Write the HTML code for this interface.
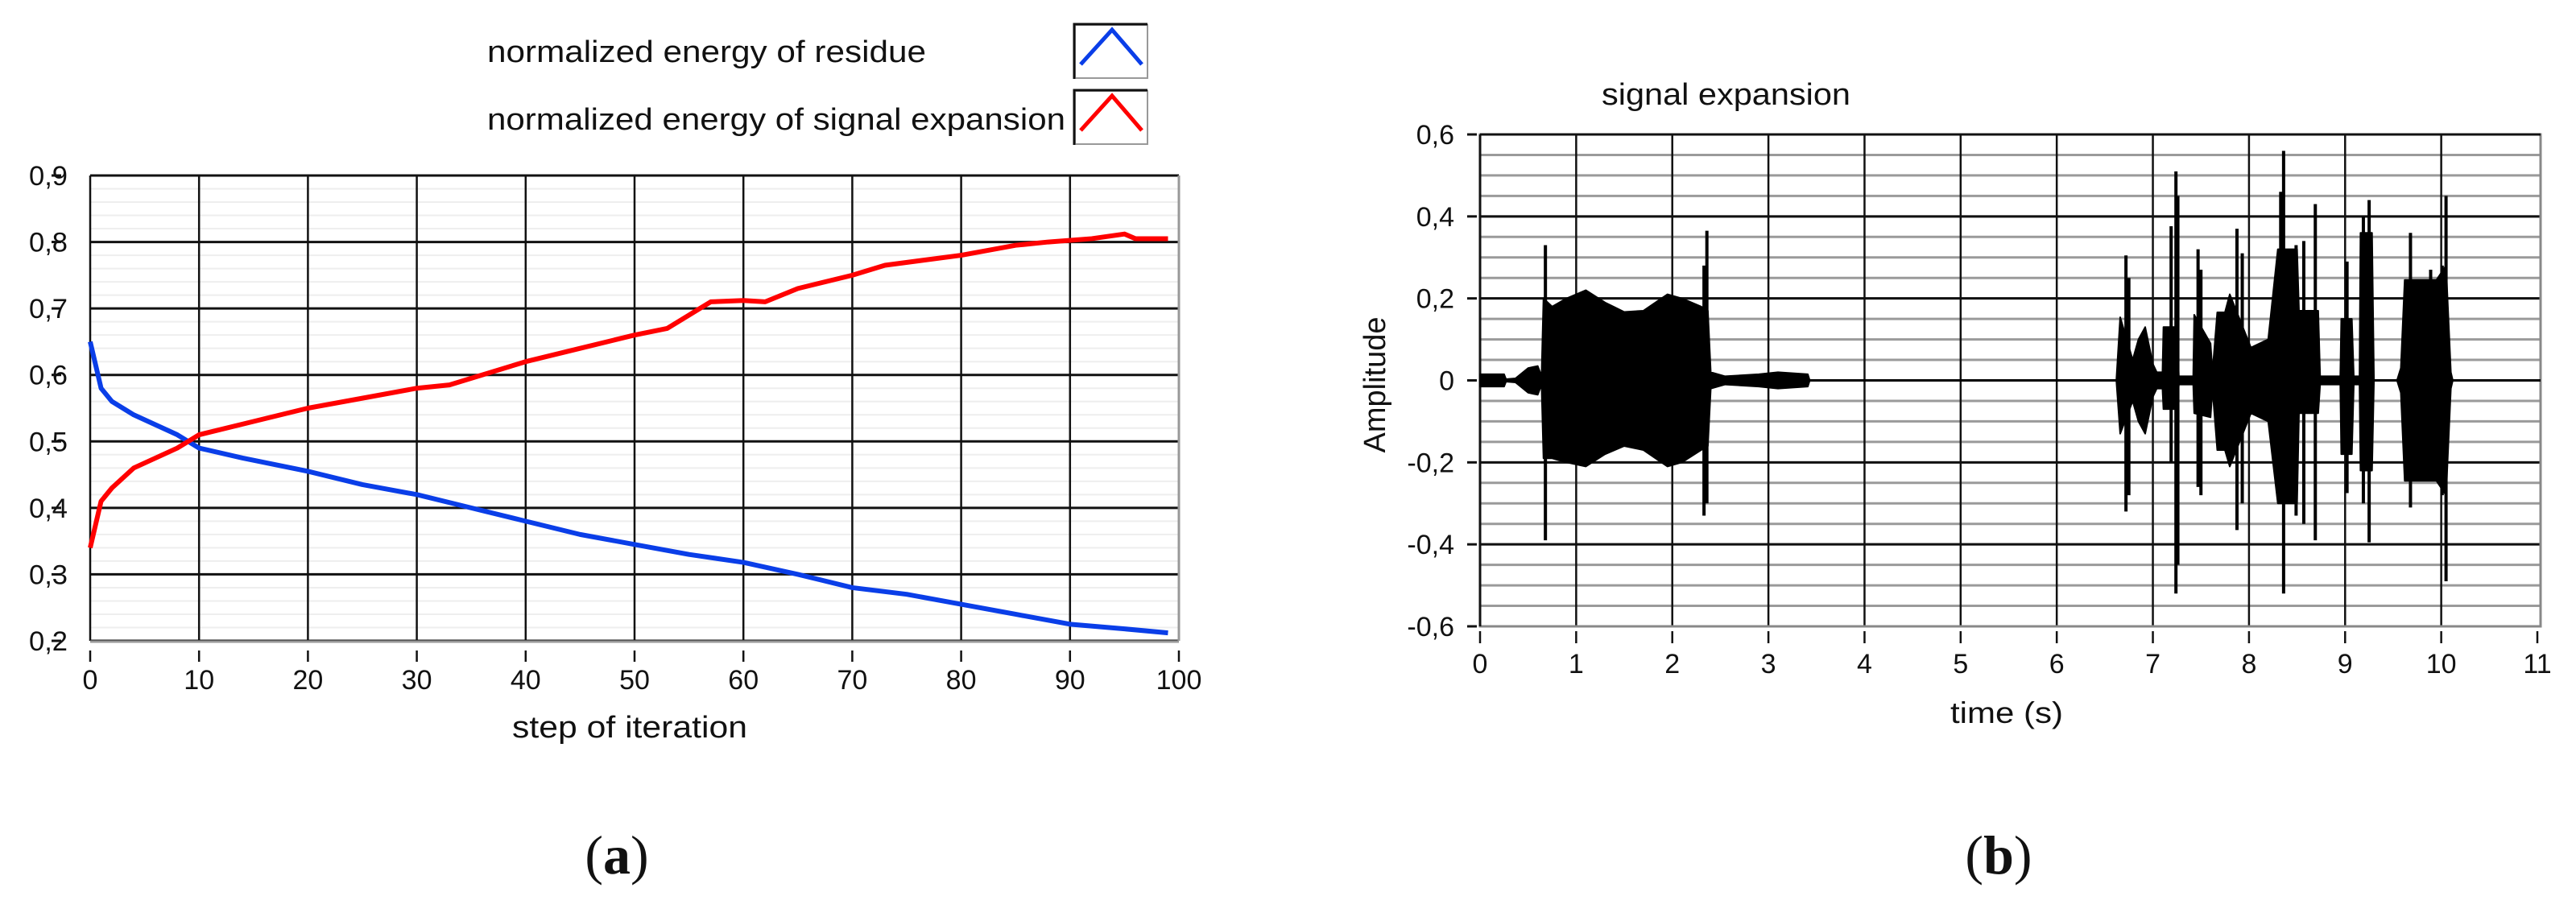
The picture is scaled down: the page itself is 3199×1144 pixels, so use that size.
<!DOCTYPE html>
<html><head><meta charset="utf-8"><style>
html,body{margin:0;padding:0;background:#fff;}
svg{display:block;}
text{font-family:"Liberation Sans",sans-serif;fill:#111;}
</style></head><body>
<svg id="fig" width="3199" height="1144" viewBox="0 0 3199 1144" xmlns="http://www.w3.org/2000/svg">
<g id="left"></g>
<g id="right"></g>
<text x="766" y="1085" text-anchor="middle" style="font-family:'Liberation Serif',serif" font-size="68">(<tspan font-weight="bold">a</tspan>)</text>
<text x="2482" y="1085" text-anchor="middle" style="font-family:'Liberation Serif',serif" font-size="68">(<tspan font-weight="bold">b</tspan>)</text>
</svg>
<script>
// ---- Left chart data ----
const residueSteps = [0,1,2,4,6,8,10,14,20,25,30,35,40,45,50,55,60,65,70,75,80,85,90,95,99];
const residueVals  = [0.65,0.58,0.56,0.54,0.525,0.51,0.49,0.475,0.455,0.435,0.42,0.40,0.38,0.36,0.345,0.33,0.318,0.30,0.28,0.27,0.255,0.24,0.225,0.218,0.212];
const expansionSteps = [0,1,2,4,6,8,10,15,20,25,30,33,35,40,45,50,53,55,57,60,62,65,70,73,80,85,88,92,95,96,99];
const expansionVals  = [0.34,0.41,0.43,0.46,0.475,0.49,0.51,0.53,0.55,0.565,0.58,0.585,0.595,0.62,0.64,0.66,0.67,0.69,0.71,0.712,0.71,0.73,0.75,0.765,0.78,0.795,0.80,0.805,0.812,0.805,0.805];
const leftXTicks = [0,10,20,30,40,50,60,70,80,90,100];
const leftYTicks = [0.2,0.3,0.4,0.5,0.6,0.7,0.8,0.9];
const leftYLabels = ["0,2","0,3","0,4","0,5","0,6","0,7","0,8","0,9"];
// ---- Right chart data ----
const envT  = [0,0.25,0.27,0.37,0.5,0.6,0.64,0.66,0.75,0.9,1.1,1.3,1.5,1.7,1.95,2.1,2.3,2.37,2.4,2.55,2.9,3.1,3.41,3.43,6.62,6.66,6.79,6.85,6.92,7.0,7.04,7.1,7.11,7.25,7.27,7.42,7.43,7.6,7.62,7.67,7.75,7.8,8.02,8.2,8.3,8.5,8.52,8.72,8.74,8.95,8.96,9.07,9.09,9.15,9.16,9.28,9.3,9.54,9.58,9.62,9.95,10.05,10.1,10.12,11];
const envHi = [.015,.015,.003,.005,.03,.035,.01,.2,.18,.2,.22,.19,.167,.17,.21,.2,.18,.17,.02,.01,.015,.02,.015,0,0,.154,.05,.1,.13,.04,.02,.02,.13,.13,.01,.01,.16,.09,.02,.166,.166,.21,.08,.1,.32,.32,.17,.17,.01,.01,.15,.15,.01,.01,.36,.36,0,0,.03,.245,.245,.28,.02,0,0];
const envLo = [-.015,-.015,-.003,-.005,-.03,-.035,-.01,-.19,-.19,-.2,-.21,-.18,-.16,-.17,-.21,-.2,-.17,-.16,-.02,-.01,-.015,-.02,-.015,0,0,-.13,-.05,-.1,-.13,-.04,-.02,-.02,-.07,-.07,-.01,-.01,-.08,-.09,-.02,-.17,-.17,-.21,-.08,-.1,-.3,-.3,-.08,-.08,-.01,-.01,-.18,-.18,-.01,-.01,-.22,-.22,0,0,-.03,-.245,-.245,-.28,-.02,0,0];
const spikeT  = [0.68,2.33,2.36,6.72,6.75,7.19,7.24,7.26,7.47,7.5,7.875,7.93,8.33,8.36,8.49,8.57,8.69,9.02,9.19,9.25,9.68,9.89,10.01,10.05];
const spikeHi = [.33,.28,.365,.305,.25,.376,.51,.45,.32,.27,.37,.31,.46,.56,.33,.34,.43,.29,.40,.44,.36,.27,.28,.45];
const spikeLo = [-.39,-.33,-.3,-.32,-.28,-.2,-.52,-.45,-.26,-.28,-.365,-.30,-.30,-.52,-.33,-.35,-.39,-.275,-.30,-.395,-.31,-.2,-.28,-.49];
const rightXTicks = [0,1,2,3,4,5,6,7,8,9,10,11];
const rightYTicks = [-0.6,-0.4,-0.2,0,0.2,0.4,0.6];
const rightYLabels = ["-0,6","-0,4","-0,2","0","0,2","0,4","0,6"];

const NS="http://www.w3.org/2000/svg";
function mk(parent,tag,attrs,txt){const e=document.createElementNS(NS,tag);for(const k in attrs)e.setAttribute(k,attrs[k]);if(txt!==undefined)e.textContent=txt;parent.appendChild(e);return e;}

// ---------- LEFT ----------
const L=document.getElementById('left');
const lx0=112,lx1=1464,ly0=796,ly1=218;
const lX=v=>lx0+(v-0)/(100-0)*(lx1-lx0);
const lY=v=>ly0-(v-0.2)/(0.9-0.2)*(ly0-ly1);
for(let v=0.2;v<0.9001;v+=0.02){
  const ln=mk(L,'line',{x1:lx0,x2:lx1,y1:lY(v),y2:lY(v),stroke:'#eeeeee','stroke-width':2});
  
  
}
leftYTicks.forEach((v,i)=>{
  const g=mk(L,'line',{x1:lx0,x2:lx1,y1:lY(v),y2:lY(v),stroke:'#111','stroke-width':3});
  
  
  const t=mk(L,'line',{x1:64,x2:76,y1:lY(v),y2:lY(v),stroke:'#111','stroke-width':3});
  
  
  const lb=mk(L,'text',{x:84,y:lY(v)+12,'text-anchor':'end','font-size':34,textLength:48,lengthAdjust:'spacingAndGlyphs'},leftYLabels[i]);
  
  
});
leftXTicks.forEach(v=>{
  const g=mk(L,'line',{x1:lX(v),x2:lX(v),y1:ly1,y2:ly0,stroke:'#111','stroke-width':2.5});
  
  
  const t=mk(L,'line',{x1:lX(v),x2:lX(v),y1:808,y2:822,stroke:'#111','stroke-width':2.5});
  
  
  const lb=mk(L,'text',{x:lX(v),y:856,'text-anchor':'middle','font-size':34},String(v));
  
  
});
const lb1=mk(L,'line',{x1:lx0,x2:lx1,y1:ly0+1,y2:ly0+1,stroke:'#999','stroke-width':3});


const lb2=mk(L,'line',{x1:lx1,x2:lx1,y1:ly1,y2:ly0,stroke:'#999','stroke-width':3});


function stairs(xs,ys){let d='M'+lX(xs[0])+' '+lY(ys[0]);for(let i=1;i<xs.length;i++){d+=' L'+lX(xs[i])+' '+lY(ys[i]);}return d;}
const pr=mk(L,'path',{d:stairs(residueSteps,residueVals),fill:'none',stroke:'#0a3ee8','stroke-width':6,'stroke-linejoin':'round'});


const pe=mk(L,'path',{d:stairs(expansionSteps,expansionVals),fill:'none',stroke:'#ff0000','stroke-width':6,'stroke-linejoin':'round'});


const xt=mk(L,'text',{x:782,y:916,'text-anchor':'middle','font-size':38,textLength:292,lengthAdjust:'spacingAndGlyphs'},'step of iteration');


// legend
const lg1=mk(L,'text',{x:605,y:77,'font-size':38,textLength:545,lengthAdjust:'spacingAndGlyphs'},'normalized energy of residue');


const lg2=mk(L,'text',{x:605,y:161,'font-size':38,textLength:718,lengthAdjust:'spacingAndGlyphs'},'normalized energy of signal expansion');


[[30,'#0a3ee8','legend-swatch-residue'],[112,'#ff0000','legend-swatch-expansion']].forEach(([y,c,n])=>{
  const g=mk(L,'g',{});
  
  
  mk(g,'rect',{x:1335,y:y+1,width:90,height:66,fill:'#fff',stroke:'#999','stroke-width':2});
  mk(g,'path',{d:`M1334 ${y+68} L1334 ${y} L1425 ${y}`,fill:'none',stroke:'#111','stroke-width':3});
  mk(g,'path',{d:`M1342 ${y+50} L1381 ${y+7} L1418 ${y+50}`,fill:'none',stroke:c,'stroke-width':5});
});

// ---------- RIGHT ----------
const R=document.getElementById('right');
const rx0=1838,rx1=3151,ry0=778,ry1=167;
const rX=v=>rx0+v/11*(rx1-rx0);
const rY=v=>ry0-(v+0.6)/1.2*(ry0-ry1);
for(let v=-0.6;v<0.6001;v+=0.05){
  const ln=mk(R,'line',{x1:rx0,x2:3155,y1:rY(v),y2:rY(v),stroke:'#9a9a9a','stroke-width':3});
  
  
}
rightYTicks.forEach((v,i)=>{
  const g=mk(R,'line',{x1:rx0,x2:3155,y1:rY(v),y2:rY(v),stroke:'#111','stroke-width':3});
  
  
  const t=mk(R,'line',{x1:1822,x2:1834,y1:rY(v),y2:rY(v),stroke:'#111','stroke-width':3});
  
  
  const lb=mk(R,'text',{x:1806,y:rY(v)+12,'text-anchor':'end','font-size':34},rightYLabels[i]);
  
  
});
rightXTicks.forEach(v=>{
  if(v>0&&v<11){const g=mk(R,'line',{x1:rX(v),x2:rX(v),y1:ry1,y2:ry0,stroke:'#111','stroke-width':2.5});
  
  }
  const t=mk(R,'line',{x1:rX(v),x2:rX(v),y1:784,y2:799,stroke:'#111','stroke-width':2.5});
  
  
  const lb=mk(R,'text',{x:rX(v),y:836,'text-anchor':'middle','font-size':34},String(v));
  
  
});
const rb=mk(R,'rect',{x:rx0,y:ry1,width:3155-rx0,height:ry0-ry1,fill:'none',stroke:'#888','stroke-width':3});


const rt=mk(R,'line',{x1:rx0,x2:3155,y1:ry1,y2:ry1,stroke:'#111','stroke-width':3});


const rl=mk(R,'line',{x1:rx0,x2:rx0,y1:ry1,y2:ry0,stroke:'#111','stroke-width':3});


// waveform envelope
let d='M'+rX(envT[0])+' '+rY(envHi[0]);
for(let i=1;i<envT.length;i++) d+=' L'+rX(envT[i])+' '+rY(envHi[i]);
for(let i=envT.length-1;i>=0;i--) d+=' L'+rX(envT[i])+' '+rY(envLo[i]);
d+='Z';
const env=mk(R,'path',{d:d,fill:'#000',stroke:'#000','stroke-width':2,'stroke-linejoin':'round'});


const zl=mk(R,'line',{x1:rx0,x2:3155,y1:rY(0),y2:rY(0),stroke:'#000','stroke-width':3});


spikeT.forEach((t,i)=>{
  const s=mk(R,'line',{x1:rX(t),x2:rX(t),y1:rY(spikeHi[i]),y2:rY(spikeLo[i]),stroke:'#000','stroke-width':4});
  
  
});
const tt=mk(R,'text',{x:1989,y:130,'font-size':38,textLength:309,lengthAdjust:'spacingAndGlyphs'},'signal expansion');


const xa=mk(R,'text',{x:2492,y:898,'text-anchor':'middle','font-size':37,textLength:140,lengthAdjust:'spacingAndGlyphs'},'time (s)');


const ya=mk(R,'text',{x:0,y:0,'text-anchor':'middle','font-size':38,transform:'translate(1720,478) rotate(-90)'},'Amplitude');


</script>
</body></html>
